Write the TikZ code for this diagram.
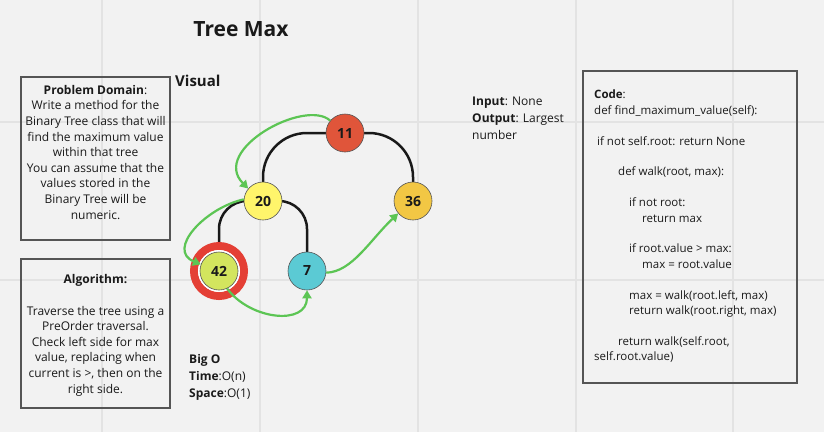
\documentclass[tikz,border=0pt]{standalone}
\usepackage{fontspec}
\setmainfont{Open Sans}
\usetikzlibrary{arrows.meta}
\definecolor{bg}{HTML}{F2F2F2}
\definecolor{gridc}{HTML}{E3E3E3}
\definecolor{boxc}{HTML}{555555}
\definecolor{txtc}{HTML}{1A1A1A}
\definecolor{cRed}{HTML}{E0553A}
\definecolor{cYel}{HTML}{FFF56B}
\definecolor{cOra}{HTML}{F2C744}
\definecolor{cLim}{HTML}{D3E55E}
\definecolor{cCya}{HTML}{5BCAD4}
\definecolor{cRing}{HTML}{E43F35}
\definecolor{cGreen}{HTML}{5CC554}
\tikzset{
  gridline/.style={draw=gridc, line width=1.5pt},
  infobox/.style={draw=boxc, line width=1.1pt},
  txt/.style={inner sep=0pt, text=txtc, font=\fontsize{12}{15.6}\selectfont},
  treenode/.style={circle, draw=boxc, line width=0.6pt, minimum size=38pt, inner sep=0pt, text=txtc, font=\fontsize{14}{16}\selectfont\bfseries},
  treeedge/.style={draw=black!90, line width=2.5pt},
  walkarrow/.style={draw=cGreen, line width=2.2pt, -{Triangle[length=8pt,width=9pt]}},
}
\begin{document}
\begin{tikzpicture}[x=1pt,y=-1pt]
\useasboundingbox[fill=bg] (0,0) rectangle (824,432);
% grid
\foreach \gx in {102,260,418,576,733} {\draw[gridline] (\gx,0) -- (\gx,432);}
\foreach \gy in {122,280} {\draw[gridline] (0,\gy) -- (824,\gy);}
% title
\node[txt, anchor=base, font=\fontsize{21}{24}\selectfont\bfseries] (title) at (241,36) {Tree Max};
\node[txt, anchor=base west, font=\fontsize{15}{18}\selectfont\bfseries] (visual) at (175,86) {Visual};
% problem domain
\draw[infobox] (21,77) rectangle (170,240);
\node[txt, anchor=north, align=center] (pd) at (95.5,85) {\textbf{Problem Domain}:\\Write a method for the\\Binary Tree class that will\\find the maximum value\\within that tree\\You can assume that the\\values stored in the\\Binary Tree will be\\numeric.};
% algorithm
\draw[infobox] (21,259) rectangle (170,408);
\node[txt, anchor=north, align=center] (alg) at (95.5,274.5) {\textbf{Algorithm:}\\~\\Traverse the tree using a\\PreOrder traversal.\\Check left side for max\\value, replacing when\\current is >, then on the\\right side.};
% input output
\node[txt, anchor=north west, align=left, font=\fontsize{12}{17}\selectfont] (io) at (472,97) {\textbf{Input}: None\\\textbf{Output}: Largest\\number};
% big O
\node[txt, anchor=north west, align=left, font=\fontsize{12}{17}\selectfont] (bigo) at (189,354) {\textbf{Big O}\\\textbf{Time}:O(n)\\\textbf{Space}:O(1)};
% code
\draw[infobox] (583,71) rectangle (797,383);
\node[txt, anchor=north west, align=left, font=\fontsize{11.5}{15.4}\selectfont] (code) at (594,90) {\textbf{Code}:\\def find\_maximum\_value(self):\\~\\\hspace*{3pt}if not self.root: return None\\~\\\hspace*{24pt}def walk(root, max):\\~\\\hspace*{35pt}if not root:\\\hspace*{48pt}return max\\~\\\hspace*{35pt}if root.value > max:\\\hspace*{48pt}max = root.value\\~\\\hspace*{35pt}max = walk(root.left, max)\\\hspace*{35pt}return walk(root.right, max)\\~\\\hspace*{24pt}return walk(self.root,\\self.root.value)};
% tree
\coordinate (c11) at (345,133);
\coordinate (c20) at (263,201);
\coordinate (c36) at (413,201);
\coordinate (c42) at (219,271);
\coordinate (c7) at (307,271);
\draw[treeedge, rounded corners=44pt] (c11) -| (c20);
\draw[treeedge, rounded corners=44pt] (c11) -| (c36);
\draw[treeedge, rounded corners=28pt] (c20) -| (c42);
\draw[treeedge, rounded corners=28pt] (c20) -| (c7);
\draw[cRing, line width=8pt] (c42) circle[radius=25pt];
\fill[white] (c42) circle[radius=21pt];
\node[treenode, fill=cRed] (n11) at (c11) {11};
\node[treenode, fill=cYel] (n20) at (c20) {20};
\node[treenode, fill=cOra] (n36) at (c36) {36};
\node[treenode, fill=cLim] (n42) at (c42) {42};
\node[treenode, fill=cCya] (n7) at (c7) {7};
% traversal arrows
\draw[walkarrow] (n11.140) .. controls (305,98) and (210,150) .. (n20.140);
\draw[walkarrow] (n20.175) .. controls (205,208) and (166,250) .. (n42.160);
\draw[walkarrow] (n42.-65) .. controls (250,320) and (307,326) .. (n7.south);
\draw[walkarrow] (n7.-5) .. controls (352,272) and (370,240) .. (n36.-140);
\end{tikzpicture}
\end{document}
